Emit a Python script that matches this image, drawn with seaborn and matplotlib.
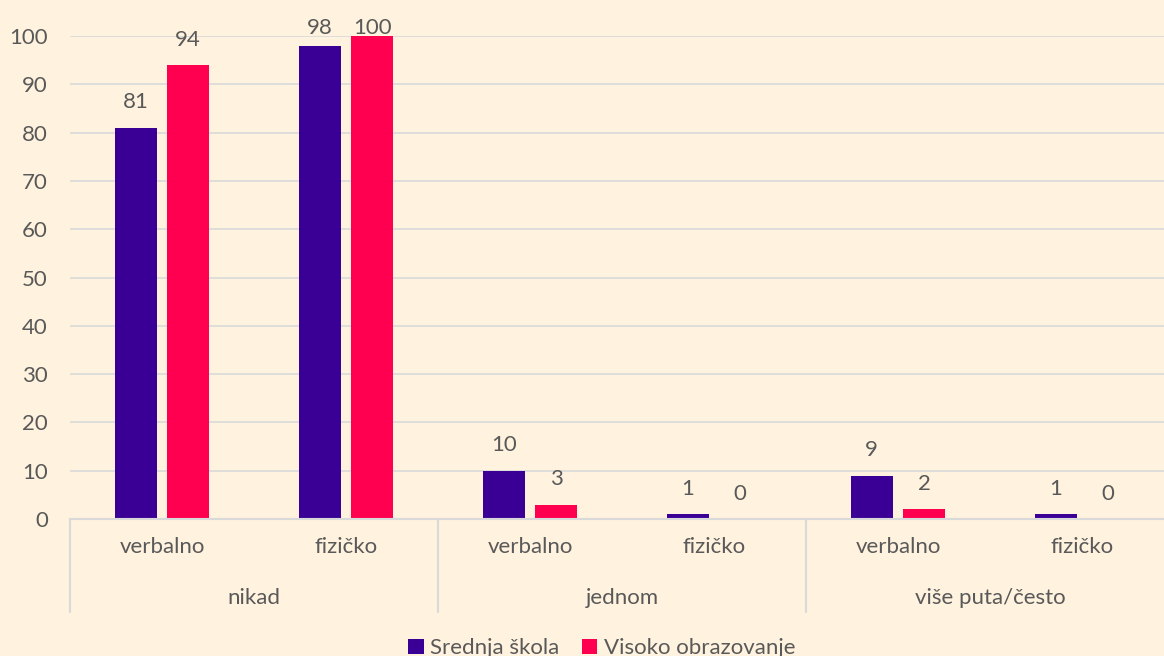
import pandas as pd
import matplotlib
matplotlib.use("Agg")
import matplotlib.pyplot as plt
import matplotlib.transforms as mtransforms
import seaborn as sns

# ==========================================================
# DADOS
# ==========================================================

grupos = ["nikad", "jednom", "više puta/često"]
tipos = ["verbalno", "fizičko"]
serie_nomes = ["Srednja škola", "Visoko obrazovanje"]

srednja = [81, 98, 10, 1, 9, 1]
visoko = [94, 100, 3, 0, 2, 0]

cor_fundo = "#FFF2DE"
cor_texto = "#595959"
cor_grade = "#D9D9D9"
cores = ["#3A0096", "#FF0050"]

# ==========================================================
# TABELA
# ==========================================================

chaves = [f"{g}|{t}" for g in grupos for t in tipos]

linhas = []
for nome, valores in zip(serie_nomes, [srednja, visoko]):
    for chave, v in zip(chaves, valores):
        linhas.append({"cat": chave, "serie": nome, "valor": v})
df = pd.DataFrame(linhas)

# ==========================================================
# GRAFICO
# ==========================================================

sns.set_theme(style="white")
plt.rcParams["font.family"] = ["Lato", "DejaVu Sans"]

fs = 16

fig = plt.figure(figsize=(11.64, 6.56), dpi=100, facecolor=cor_fundo)
ax = fig.add_axes([70 / 1164, 137 / 656, 1094 / 1164, 483 / 656])
ax.set_facecolor(cor_fundo)

sns.barplot(
    data=df,
    x="cat",
    y="valor",
    hue="serie",
    order=chaves,
    hue_order=serie_nomes,
    palette=cores,
    width=0.57,
    gap=0.2,
    saturation=1,
    linewidth=0,
    legend=True,
    ax=ax
)

ax.set_xlim(-0.5, 5.446)
ax.set_ylim(0, 100)
ax.set_yticks(range(0, 101, 10))
ax.yaxis.grid(True, color=cor_grade, linewidth=1.2)
ax.set_axisbelow(True)

for lado in ["top", "left", "right"]:
    ax.spines[lado].set_visible(False)
ax.spines["bottom"].set_color(cor_grade)
ax.spines["bottom"].set_linewidth(1.5)

ax.set_xlabel("")
ax.set_ylabel("")
ax.set_xticks(range(len(chaves)))
ax.set_xticklabels([c.split("|")[1] for c in chaves])
ax.tick_params(axis="y", length=0, pad=16, labelsize=fs, labelcolor=cor_texto)
ax.tick_params(axis="x", length=0, pad=13, labelsize=fs, labelcolor=cor_texto)

# rotulos das barras
for container in ax.containers:
    for barra in container:
        h = barra.get_height()
        y = min(h, 96.5)
        ax.annotate(
            f"{h:.0f}",
            (barra.get_x() + barra.get_width() / 2, y),
            xytext=(0, 11),
            textcoords="offset points",
            ha="center",
            va="bottom",
            fontsize=fs,
            color=cor_texto,
            annotation_clip=False
        )

# eixo hierarquico
trans = mtransforms.blended_transform_factory(ax.transData, ax.transAxes)
for i, g in enumerate(grupos):
    ax.text(2 * i + 0.5, -0.164, g, transform=trans, ha="center",
            va="center", fontsize=fs, color=cor_texto)
for x in [-0.5, 1.5, 3.5, 5.5]:
    ax.plot([x, x], [0, -0.193], transform=trans, color=cor_grade,
            linewidth=1.5, clip_on=False)

# legenda
handles, labels = ax.get_legend_handles_labels()
ax.get_legend().remove()
fig.legend(
    handles,
    labels,
    loc="center",
    bbox_to_anchor=(0.517, 0.012),
    ncol=2,
    frameon=False,
    fontsize=fs,
    labelcolor=cor_texto,
    handlelength=0.7,
    handleheight=0.7,
    handletextpad=0.3,
    columnspacing=1.0
)

fig.savefig("out.png", dpi=100, facecolor=cor_fundo)
